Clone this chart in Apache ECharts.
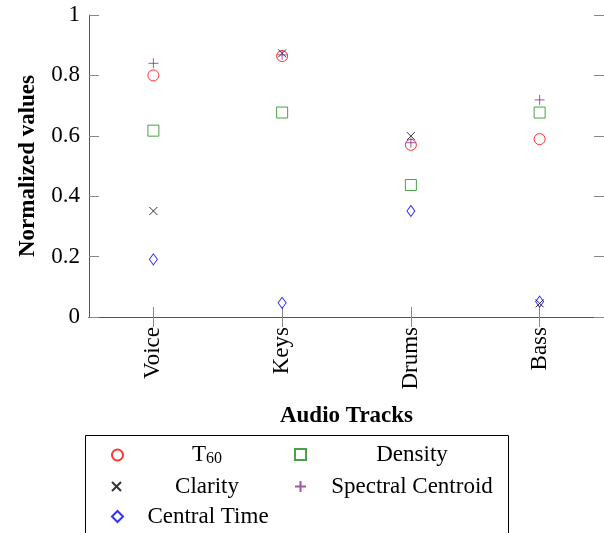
<!DOCTYPE html>
<html>
<head>
<meta charset="utf-8">
<script src="https://cdn.jsdelivr.net/npm/echarts@6/dist/echarts.min.js"></script>
<style>html,body{margin:0;padding:0;background:#fff;}#c{width:604px;height:533px;}</style>
</head>
<body>
<div id="c"></div>
<script>
const categories = ['Voice', 'Keys', 'Drums', 'Bass'];
const seriesNames = ['T60', 'Clarity', 'Central Time', 'Density', 'Spectral Centroid'];
const t60 = [0.80, 0.864, 0.570, 0.589];
const clarity = [0.351, 0.873, 0.599, 0.045];
const centralTime = [0.191, 0.047, 0.351, 0.051];
const density = [0.617, 0.677, 0.437, 0.677];
const spectralCentroid = [0.840, 0.868, 0.577, 0.719];
const yTickLabels = ['0', '0.2', '0.4', '0.6', '0.8', '1'];

const FONT = 'Liberation Serif';
const chart = echarts.init(document.getElementById('c'), null, {renderer: 'canvas'});

function mk(name, data, symbol, size, color) {
  return {
    type: 'scatter', name: name, data: data, symbol: symbol, symbolSize: size,
    itemStyle: {color: 'transparent', borderColor: color, borderWidth: 1},
    emphasis: {disabled: true}
  };
}
const CROSS = 'path://M0,0L10,10M10,0L0,10';
const PLUS = 'path://M5,0L5,10M0,5L10,5';

const series = [
  mk(seriesNames[0], t60, 'circle', 11, '#ff0000'),
  mk(seriesNames[1], clarity, CROSS, 8, '#000000'),
  mk(seriesNames[2], centralTime, 'diamond', [8, 11], '#0000ff'),
  mk(seriesNames[3], density, 'rect', 11, '#1a8c1a'),
  mk(seriesNames[4], spectralCentroid, PLUS, 10, '#8a2a8a')
];

const legendPos = [[111, 443], [111, 475], [111, 505], [294, 443], [294, 475]];
const legendW = [160, 160, 160, 202, 202];
const legendIcon = [11, 9, 11, 11, 11];
const legends = seriesNames.map(function (n, i) {
  return {
    data: [n], left: legendPos[i][0], top: legendPos[i][1], padding: 0,
    itemWidth: 11, itemHeight: legendIcon[i], selectedMode: false,
    formatter: function (name) {
      if (name === 'T60') return '{t|T}{s|60}';
      return '{c|' + name + '}';
    },
    textStyle: {
      fontFamily: FONT, fontSize: 23, color: '#000',
      rich: {
        c: {fontFamily: FONT, fontSize: 23, width: legendW[i], align: 'center', lineHeight: 24},
        t: {fontFamily: FONT, fontSize: 23, padding: [0, 0, 0, 64], lineHeight: 24},
        s: {fontFamily: FONT, fontSize: 16, lineHeight: 24, verticalAlign: 'bottom', padding: [8, 0, 0, 0]}
      }
    }
  };
});

const tickStyle = {show: true, inside: true, length: 10, lineStyle: {color: '#888', width: 1}};
const option = {
  animation: false,
  backgroundColor: '#fff',
  grid: {left: 89, top: 15, right: -2, bottom: 216},
  xAxis: [{
    type: 'category', data: categories, position: 'bottom',
    axisLine: {lineStyle: {color: '#000', width: 1}},
    axisTick: Object.assign({alignWithLabel: true}, tickStyle),
    axisLabel: {rotate: 90, margin: 10, fontFamily: FONT, fontSize: 23, color: '#000'},
    name: 'Audio Tracks', nameLocation: 'middle', nameGap: 88,
    nameTextStyle: {fontFamily: FONT, fontSize: 23, fontWeight: 'bold', color: '#000'},
    splitLine: {show: false}
  }, {
    type: 'category', data: categories, position: 'top',
    axisLine: {lineStyle: {color: '#555', width: 1}},
    axisTick: Object.assign({alignWithLabel: true}, tickStyle),
    axisLabel: {show: false}, splitLine: {show: false}
  }],
  yAxis: [{
    type: 'value', min: 0, max: 1, interval: 0.2, position: 'left',
    axisLine: {show: true, lineStyle: {color: '#555', width: 1}},
    axisTick: tickStyle,
    axisLabel: {margin: 9, fontFamily: FONT, fontSize: 23, color: '#000',
      formatter: function (v) { return yTickLabels[Math.round(v * 5)]; }},
    name: 'Normalized values', nameLocation: 'middle', nameGap: 49,
    nameTextStyle: {fontFamily: FONT, fontSize: 23, fontWeight: 'bold', color: '#000'},
    splitLine: {show: false}
  }, {
    type: 'value', min: 0, max: 1, interval: 0.2, position: 'right',
    axisLine: {show: true, lineStyle: {color: '#555', width: 1}},
    axisTick: tickStyle, axisLabel: {show: false}, splitLine: {show: false}
  }],
  legend: legends,
  graphic: [{
    type: 'rect', silent: true,
    shape: {x: 85.5, y: 435.5, width: 423, height: 120},
    style: {fill: 'none', stroke: '#000', lineWidth: 1}
  }],
  series: series
};
chart.setOption(option);
</script>
</body>
</html>
